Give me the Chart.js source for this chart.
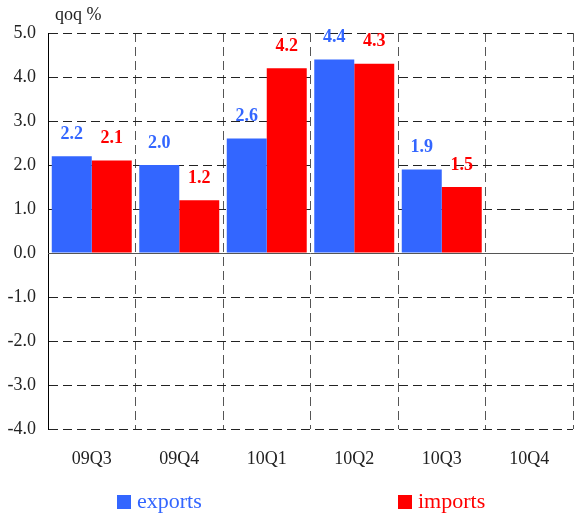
<!DOCTYPE html>
<html>
<head>
<meta charset="utf-8">
<script src="https://cdn.jsdelivr.net/npm/chart.js@4.4.0/dist/chart.umd.min.js"></script>
<style>
  html, body { margin: 0; padding: 0; background: #fff; }
  #wrap { width: 574px; height: 517px; position: relative; }
</style>
</head>
<body>
<div id="wrap"><canvas id="chart"></canvas></div>
<script>
// chart data
const quarters = ['09Q3', '09Q4', '10Q1', '10Q2', '10Q3', '10Q4'];
const exportsQoq = [2.2, 2.0, 2.6, 4.4, 1.9, null];
const importsQoq = [2.1, 1.2, 4.2, 4.3, 1.5, null];
const yMin = -4;
const yMax = 5;
const unitLabel = 'qoq %';

const SERIF = '"Liberation Serif", "Times New Roman", serif';
const BLUE = '#3366ff';
const RED = '#ff0000';

// value labels above each bar
const valueLabels = {
  id: 'valueLabels',
  afterDatasetsDraw(chart) {
    const ctx = chart.ctx;
    ctx.save();
    ctx.font = 'bold 18px ' + SERIF;
    ctx.textAlign = 'center';
    ctx.textBaseline = 'middle';
    chart.data.datasets.forEach((ds, i) => {
      const meta = chart.getDatasetMeta(i);
      meta.data.forEach((bar, j) => {
        const v = ds.data[j];
        if (v == null) return;
        ctx.fillStyle = ds.backgroundColor;
        ctx.fillText(v.toFixed(1), bar.x, bar.y - 22);
      });
    });
    ctx.restore();
  }
};

// solid line at zero
const zeroLine = {
  id: 'zeroLine',
  beforeDatasetsDraw(chart) {
    const { ctx, chartArea, scales } = chart;
    const y = Math.round(scales.y.getPixelForValue(0)) + 0.5;
    ctx.save();
    ctx.strokeStyle = '#555';
    ctx.lineWidth = 1;
    ctx.beginPath();
    ctx.moveTo(chartArea.left, y);
    ctx.lineTo(chartArea.right, y);
    ctx.stroke();
    ctx.restore();
  }
};

// unit text top-left and legend spread under the plot
const extras = {
  id: 'extras',
  afterDraw(chart) {
    const { ctx, chartArea } = chart;
    ctx.save();
    ctx.font = '18px ' + SERIF;
    ctx.fillStyle = '#222';
    ctx.textAlign = 'left';
    ctx.textBaseline = 'middle';
    ctx.fillText(unitLabel, chartArea.left + 7, 15);

    const itemX = [chartArea.left + 69, chartArea.left + 350];
    const y = chart.height - 15;
    ctx.font = '22px ' + SERIF;
    chart.data.datasets.forEach((ds, i) => {
      ctx.fillStyle = ds.backgroundColor;
      ctx.fillRect(itemX[i], y - 7, 14, 14);
      ctx.fillText(ds.label, itemX[i] + 20, y);
    });
    ctx.restore();
  }
};

new Chart(document.getElementById('chart'), {
  type: 'bar',
  data: {
    labels: quarters,
    datasets: [
      { label: 'exports', data: exportsQoq, backgroundColor: BLUE },
      { label: 'imports', data: importsQoq, backgroundColor: RED }
    ]
  },
  options: {
    responsive: true,
    maintainAspectRatio: false,
    animation: false,
    devicePixelRatio: 1,
    layout: { padding: { top: 33, right: 1, bottom: 38, left: 0 } },
    datasets: { bar: { categoryPercentage: 0.914, barPercentage: 1 } },
    plugins: {
      legend: { display: false },
      tooltip: { enabled: false }
    },
    scales: {
      x: {
        grid: { color: '#555', lineWidth: 1, drawTicks: false, offset: true },
        border: { display: false, dash: [9, 5] },
        ticks: { color: '#222', font: { family: SERIF, size: 18 }, padding: 19 },
        afterFit(s) { s.height = 50; }
      },
      y: {
        min: yMin,
        max: yMax,
        grid: { color: '#222', lineWidth: 1, drawTicks: false },
        border: { display: true, color: '#000', width: 1, dash: [9, 5] },
        ticks: {
          stepSize: 1,
          color: '#222',
          font: { family: SERIF, size: 18 },
          padding: 12,
          callback: v => Number(v).toFixed(1)
        },
        afterFit(s) { s.width = 48; }
      }
    }
  },
  plugins: [valueLabels, zeroLine, extras]
});
</script>
</body>
</html>
